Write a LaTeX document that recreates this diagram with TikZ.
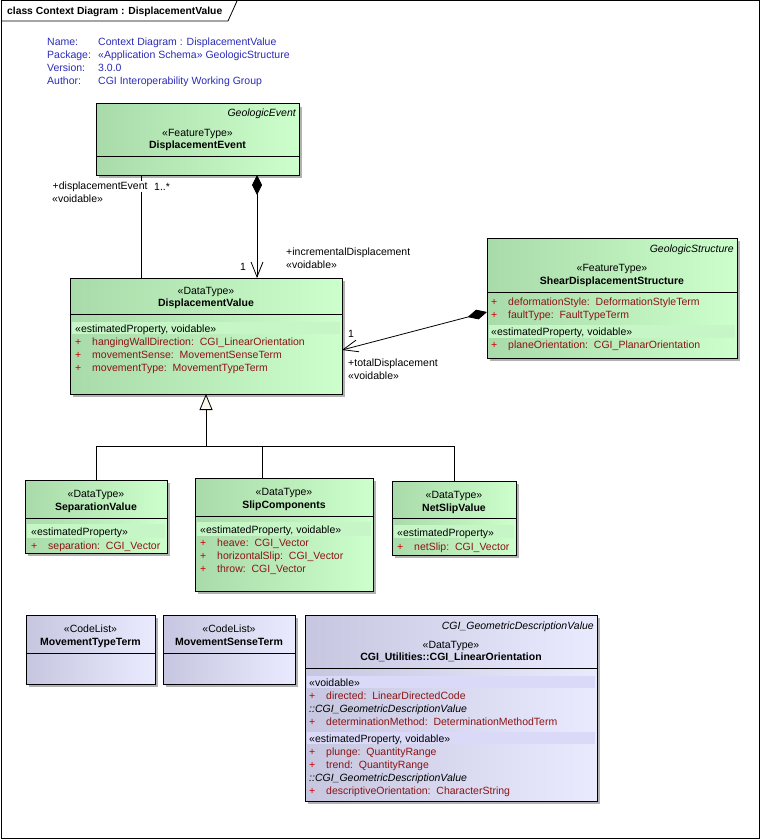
\documentclass[tikz,border=0pt]{standalone}
\usepackage{fontspec}
\setmainfont{Liberation Sans}
\usepackage{tikz}
\usetikzlibrary{arrows.meta, shadows}
\definecolor{umlgreen}{HTML}{CCFFCC}
\definecolor{umlgreendk}{HTML}{A9DAA9}
\definecolor{umlgreenband}{HTML}{C6F6C6}
\definecolor{umllav}{HTML}{EAEAFF}
\definecolor{umllavdk}{HTML}{C6C6E0}
\definecolor{umllavband}{HTML}{DADAF8}
\definecolor{hdrblue}{HTML}{2B2BB8}
\definecolor{attrred}{HTML}{8C1414}
\definecolor{plusred}{HTML}{CC0000}
\definecolor{gentri}{HTML}{FBF6EE}
\newcommand{\umlfont}{\fontsize{10.5}{13}\selectfont}
\tikzset{
	umlbox/.style={draw, line width=1pt, inner sep=0pt, outer sep=0pt, anchor=north west,
		drop shadow={shadow xshift=3pt, shadow yshift=-3pt, fill=black!30, opacity=1}},
	featbox/.style={umlbox, left color=umlgreendk, right color=umlgreen},
	codebox/.style={umlbox, left color=umllavdk, right color=umllav},
	divider/.style={line width=1pt},
	assoc/.style={line width=0.8pt}
}
% one attribute row: name, x, baseline, text
\newcommand{\umlattr}[4]{
	\node[plusmark] (#1p) at (#2,#3) {+};
	\node[attrtext] (#1) at (#2+17,#3) {#4};
}

\begin{document}
\begin{tikzpicture}[x=1pt, y=-1pt,
	plain/.style={inner sep=0pt, anchor=base west, font=\umlfont},
	hdr/.style={plain, text=hdrblue},
	stereo/.style={inner sep=0pt, anchor=base, font=\umlfont},
	cname/.style={stereo, font=\umlfont\bfseries},
	tagged/.style={inner sep=0pt, anchor=base east, font=\umlfont\itshape},
	inherited/.style={plain, font=\umlfont\itshape},
	attrtext/.style={plain, text=attrred},
	plusmark/.style={plain, text=plusred},
	gband/.style={fill=umlgreenband},
	lband/.style={fill=umllavband}]
	\useasboundingbox (0,0) rectangle (762,840);

	% frame and header
	\draw[line width=1pt] (1,1) rectangle (759,838);
	\draw[line width=0.8pt] (1,21) -- (228,21) -- (237,1);
	\node[plain, font=\fontsize{10.3}{13}\selectfont\bfseries] (title) at (7,15) {class Context Diagram : DisplacementValue};
	\foreach \k/\v [count=\i] in {Name:/Context Diagram : DisplacementValue,
		Package:/«Application Schema» GeologicStructure, Version:/3.0.0,
		Author:/CGI Interoperability Working Group}{
		\node[hdr] (hk\i) at (47,33+13*\i) {\k};
		\node[hdr] (hv\i) at (98,33+13*\i) {\v};
	}

	% DisplacementEvent
	\node[featbox, minimum width=203, minimum height=71] (devent) at (96,104) {};
	\draw[divider] (devent.west |- 0,156) -- (devent.east |- 0,156);
	\node[tagged] (deventtag) at (296,117) {GeologicEvent};
	\node[stereo] (deventst) at (197.5,136) {«FeatureType»};
	\node[cname] (deventnm) at (197.5,149) {DisplacementEvent};

	% DisplacementValue
	\node[featbox, minimum width=272, minimum height=116] (dval) at (70,278) {};
	\draw[divider] (dval.west |- 0,314) -- (dval.east |- 0,314);
	\fill[gband] (72,322) rectangle (340,334);
	\node[stereo] (dvalst) at (206,294) {«DataType»};
	\node[cname] (dvalnm) at (206,306) {DisplacementValue};
	\node[plain] (dvalgrp) at (75,332) {«estimatedProperty, voidable»};
	\umlattr{dva1}{75}{345}{hangingWallDirection:\ \ CGI\_LinearOrientation}
	\umlattr{dva2}{75}{358.5}{movementSense:\ \ MovementSenseTerm}
	\umlattr{dva3}{75}{371.5}{movementType:\ \ MovementTypeTerm}

	% ShearDisplacementStructure
	\node[featbox, minimum width=250, minimum height=120] (sds) at (487,238) {};
	\draw[divider] (sds.west |- 0,292) -- (sds.east |- 0,292);
	\fill[gband] (489,325) rectangle (735,338);
	\node[tagged] (sdstag) at (734,252) {GeologicStructure};
	\node[stereo] (sdsst) at (612,271) {«FeatureType»};
	\node[cname] (sdsnm) at (612,284) {ShearDisplacementStructure};
	\umlattr{sdsa1}{491}{305}{deformationStyle:\ \ DeformationStyleTerm}
	\umlattr{sdsa2}{491}{318.5}{faultType:\ \ FaultTypeTerm}
	\node[plain] (sdsgrp) at (491,335.5) {«estimatedProperty, voidable»};
	\umlattr{sdsa3}{491}{348.5}{planeOrientation:\ \ CGI\_PlanarOrientation}

	% SeparationValue
	\node[featbox, minimum width=142, minimum height=73] (sepv) at (25,480) {};
	\draw[divider] (sepv.west |- 0,518) -- (sepv.east |- 0,518);
	\fill[gband] (27,524) rectangle (165,538);
	\node[stereo] (sepvst) at (96,497) {«DataType»};
	\node[cname] (sepvnm) at (96,510) {SeparationValue};
	\node[plain] (sepvgrp) at (31,535) {«estimatedProperty»};
	\umlattr{sepa1}{31}{549}{separation:\ \ CGI\_Vector}

	% SlipComponents
	\node[featbox, minimum width=178, minimum height=113] (slip) at (195,478) {};
	\draw[divider] (slip.west |- 0,516) -- (slip.east |- 0,516);
	\fill[gband] (197,522) rectangle (371,536);
	\node[stereo] (slipst) at (284,495) {«DataType»};
	\node[cname] (slipnm) at (284,508) {SlipComponents};
	\node[plain] (slipgrp) at (200,533) {«estimatedProperty, voidable»};
	\umlattr{slipa1}{200}{546}{heave:\ \ CGI\_Vector}
	\umlattr{slipa2}{200}{559}{horizontalSlip:\ \ CGI\_Vector}
	\umlattr{slipa3}{200}{572}{throw:\ \ CGI\_Vector}

	% NetSlipValue
	\node[featbox, minimum width=124, minimum height=74] (netsl) at (392,481) {};
	\draw[divider] (netsl.west |- 0,518) -- (netsl.east |- 0,518);
	\fill[gband] (394,525) rectangle (514,538);
	\node[stereo] (netslst) at (454,498) {«DataType»};
	\node[cname] (netslnm) at (454,511) {NetSlipValue};
	\node[plain] (netslgrp) at (397,536) {«estimatedProperty»};
	\umlattr{netsla1}{397}{550}{netSlip:\ \ CGI\_Vector}

	% code lists
	\node[codebox, minimum width=129, minimum height=69] (mtt) at (26,615) {};
	\draw[divider] (mtt.west |- 0,653) -- (mtt.east |- 0,653);
	\node[stereo] (mttst) at (90.5,632) {«CodeList»};
	\node[cname] (mttnm) at (90.5,645) {MovementTypeTerm};
	\node[codebox, minimum width=132, minimum height=69] (mst) at (163,615) {};
	\draw[divider] (mst.west |- 0,653) -- (mst.east |- 0,653);
	\node[stereo] (mstst) at (229,632) {«CodeList»};
	\node[cname] (mstnm) at (229,645) {MovementSenseTerm};

	% CGI_LinearOrientation
	\node[codebox, minimum width=292, minimum height=186] (clo) at (305,615) {};
	\draw[divider] (clo.west |- 0,668) -- (clo.east |- 0,668);
	\fill[lband] (307,676) rectangle (595,688);
	\fill[lband] (307,732) rectangle (595,744);
	\node[tagged] (clotag) at (594,629) {CGI\_GeometricDescriptionValue};
	\node[stereo] (clost) at (451,648) {«DataType»};
	\node[cname] (clonm) at (451,660) {CGI\_Utilities::CGI\_LinearOrientation};
	\node[plain] (clogrp1) at (309,686) {«voidable»};
	\umlattr{cloa1}{309}{699.5}{directed:\ \ LinearDirectedCode}
	\node[inherited] (cloinh1) at (309,712.5) {::CGI\_GeometricDescriptionValue};
	\umlattr{cloa2}{309}{725.5}{determinationMethod:\ \ DeterminationMethodTerm}
	\node[plain] (clogrp2) at (309,742) {«estimatedProperty, voidable»};
	\umlattr{cloa3}{309}{755}{plunge:\ \ QuantityRange}
	\umlattr{cloa4}{309}{768.5}{trend:\ \ QuantityRange}
	\node[inherited] (cloinh2) at (309,781) {::CGI\_GeometricDescriptionValue};
	\umlattr{cloa5}{309}{794.5}{descriptiveOrientation:\ \ CharacterString}

	% associations
	\draw[assoc] (devent.south -| 141,0) -- (dval.north -| 141,0);
	\node[plain, fill=white, inner sep=0.5pt] (roleev) at (52,189) {+displacementEvent};
	\node[plain] (roleevst) at (52,202) {«voidable»};
	\node[plain] (multev) at (154,190) {1..*};
	\draw[assoc, {Diamond[length=20pt, width=10pt]}-{Straight Barb[length=15pt, width=12pt]}]
		(devent.south -| 257,0) -- (dval.north -| 257,0);
	\node[plain] (multinc) at (240,270) {1};
	\node[plain] (roleinc) at (286,255) {+incrementalDisplacement};
	\node[plain] (roleincst) at (286,268) {«voidable»};
	\draw[assoc, {Diamond[length=20pt, width=10pt]}-{Straight Barb[length=15pt, width=12pt]}]
		(sds.west |- 0,312) -- (dval.east |- 0,350);
	\node[plain] (multtot) at (348,337) {1};
	\node[plain] (roletot) at (348,366) {+totalDisplacement};
	\node[plain] (roletotst) at (348,379) {«voidable»};

	% generalization
	\coordinate (gj) at (206,446);
	\draw[assoc, -{Triangle[length=16pt, width=13pt, fill=gentri]}] (gj) -- (dval.south -| gj);
	\draw[assoc] (sepv.north) |- (netsl.north |- gj) -- (netsl.north);
	\draw[assoc] (slip.north -| 262,0) -- (262,0 |- gj);
\end{tikzpicture}
\end{document}
